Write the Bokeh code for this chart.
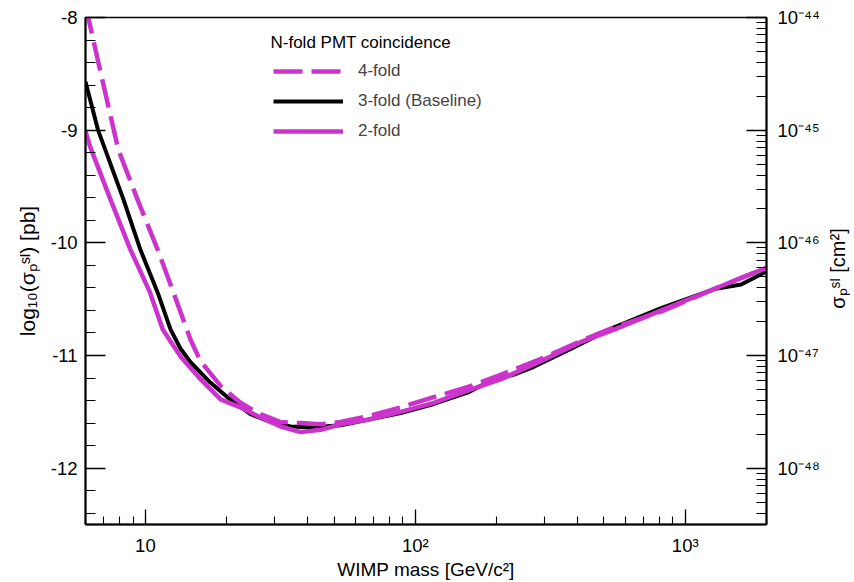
import math
from bokeh.plotting import figure
from bokeh.layouts import row
from bokeh.models import (LogAxis, Range1d, LogScale, LogTicker, SingleIntervalTicker,
                          CustomJSTickFormatter, Legend, LegendItem, Label)
from bokeh.embed import file_html
from bokeh.resources import INLINE

# WIMP mass [GeV/c^2] and log10(sigma_p^SI / pb) for each coincidence requirement
mass_4fold = [6.0, 6.8, 7.93, 9.33, 11.1, 12.7, 14.7, 16.0, 19.0, 22.5, 26.7, 31.7, 37.6, 44.6,
              52.9, 66.5, 88.3, 117, 161, 208, 292, 411, 545, 814, 1280, 2014]
sigma_4fold = [-7.89, -8.47, -9.17, -9.61, -10.06, -10.44, -10.86, -11.05, -11.27, -11.42, -11.52,
               -11.59, -11.60, -11.61, -11.59, -11.54, -11.46, -11.37, -11.27, -11.17, -11.03,
               -10.87, -10.75, -10.61, -10.41, -10.22]

mass_3fold = [6.0, 6.68, 8.28, 9.58, 11.1, 12.4, 13.5, 14.7, 17.4, 20.6, 24.5, 29.1, 34.5, 40.9,
              52.9, 66.5, 88.3, 117, 156, 195, 232, 275, 378, 545, 814, 1280, 1611, 2014]
sigma_3fold = [-8.57, -9.00, -9.61, -10.06, -10.44, -10.77, -10.94, -11.06, -11.24, -11.39, -11.52,
               -11.59, -11.63, -11.64, -11.62, -11.57, -11.51, -11.43, -11.33, -11.21, -11.17,
               -11.10, -10.94, -10.75, -10.58, -10.41, -10.37, -10.25]

mass_2fold = [6.0, 6.25, 7.41, 8.80, 10.4, 11.6, 13.5, 16.0, 19.0, 22.5, 26.7, 31.7, 37.6, 44.6,
              52.9, 66.5, 88.3, 117, 161, 208, 292, 411, 545, 814, 1280, 1611, 2014]
sigma_2fold = [-9.01, -9.15, -9.61, -10.06, -10.44, -10.77, -11.01, -11.21, -11.39, -11.46, -11.55,
               -11.63, -11.68, -11.66, -11.61, -11.57, -11.50, -11.42, -11.30, -11.21, -11.05,
               -10.88, -10.77, -10.60, -10.41, -10.31, -10.22]

labels = ["4-fold", "3-fold (Baseline)", "2-fold"]
legend_title = "N-fold PMT coincidence"
x_title = "WIMP mass [GeV/c\u00b2]"
y_title = "log\u2081\u2080(\u03c3\u209a\u02e2\u1d35) [pb]"
y2_title = "\u03c3\u209a\u02e2\u1d35 [cm\u00b2]"

x_limits = (6, 2000)
y_limits = (-12.5, -8)
pb_to_cm2_exp = -36

MAGENTA = "#cc33cc"
FONT = "Liberation Sans"
H = 582

p = figure(width=826, height=H, x_axis_type="log", x_range=x_limits, y_range=y_limits,
           output_backend="svg", toolbar_location=None,
           min_border_left=85, min_border_right=60, min_border_top=17, min_border_bottom=58)
p.background_fill_color = "white"
p.border_fill_color = "white"
p.outline_line_color = "black"
p.outline_line_width = 1.5
p.xgrid.visible = False
p.ygrid.visible = False

sup_js = """
const sup = {"0":"\u2070","1":"\u00b9","2":"\u00b2","3":"\u00b3","4":"\u2074","5":"\u2075",
             "6":"\u2076","7":"\u2077","8":"\u2078","9":"\u2079","-":"\u207b"};
const e = Math.round(Math.log10(tick));
if (e == 1 && SKIP1) { return "10"; }
return "10" + String(e).split("").map(c => sup[c]).join("");
"""

# bottom axis
xa = p.xaxis[0]
xa.ticker = LogTicker(num_minor_ticks=10)
xa.formatter = CustomJSTickFormatter(code=sup_js.replace("SKIP1", "true"))
xa.axis_label = x_title

# left axis
ya = p.yaxis[0]
ya.ticker = SingleIntervalTicker(interval=1, num_minor_ticks=5)
ya.formatter = CustomJSTickFormatter(code="return tick.toFixed(0);")
ya.axis_label = y_title

# right axis in cm^2
p.extra_y_ranges = {"cm2": Range1d(10 ** (y_limits[0] + pb_to_cm2_exp), 10 ** (y_limits[1] + pb_to_cm2_exp))}
p.extra_y_scales = {"cm2": LogScale()}
ra = LogAxis(y_range_name="cm2", ticker=LogTicker(num_minor_ticks=10),
             formatter=CustomJSTickFormatter(code=sup_js.replace("SKIP1", "false")))
p.add_layout(ra, "right")

for ax in (xa, ya, ra):
    ax.axis_line_width = 2
    ax.axis_line_color = "black"
    ax.major_tick_out = 0
    ax.minor_tick_out = 0
    ax.major_tick_line_color = "black"
    ax.minor_tick_line_color = "black"
    ax.major_tick_line_width = 1.3
    ax.minor_tick_line_width = 1.1
    ax.major_label_text_font = FONT
    ax.major_label_text_font_size = "18.5px"
    ax.major_label_text_color = "black"
    ax.axis_label_text_font = FONT
    ax.axis_label_text_font_size = "19px"
    ax.axis_label_text_font_style = "normal"
    ax.axis_label_text_color = "black"

ya.axis_label_text_font_size = "21px"
ya.major_tick_in = 20
ya.minor_tick_in = 10
ra.major_tick_in = 20
ra.minor_tick_in = 10
xa.major_tick_in = 15
xa.minor_tick_in = 8
ya.major_label_standoff = 8
ra.major_label_standoff = 11
xa.major_label_standoff = 10
ya.axis_label_standoff = 9
xa.axis_label_standoff = 0

r3 = p.line(mass_3fold, sigma_3fold, line_color="black", line_width=4, line_join="round")
r2 = p.line(mass_2fold, sigma_2fold, line_color=MAGENTA, line_width=4.5, line_join="round")
r4 = p.line(mass_4fold, sigma_4fold, line_color=MAGENTA, line_width=4.5, line_dash="29 9",
            line_join="round")

legend = Legend(items=[LegendItem(label=labels[0], renderers=[r4]),
                       LegendItem(label=labels[1], renderers=[r3]),
                       LegendItem(label=labels[2], renderers=[r2])],
                location=(188, 383),
                border_line_color=None, background_fill_alpha=0,
                glyph_width=70, glyph_height=20, label_height=20, spacing=10,
                label_standoff=15, padding=0, margin=0,
                label_text_font=FONT, label_text_font_size="17px")
p.add_layout(legend)

p.add_layout(Label(x=185, y=482, x_units="screen", y_units="screen", text=legend_title,
                   text_font=FONT, text_font_size="17px", text_baseline="middle",
                   text_align="left", text_color="black"))

# narrow strip to the right carrying the right-hand axis title, reading bottom to top
p2 = figure(width=24, height=H, x_range=(0, 1), y_range=(0, 1), output_backend="svg",
            toolbar_location=None, x_axis_location=None, y_axis_location=None,
            min_border_left=0, min_border_right=0, min_border_top=0, min_border_bottom=0)
p2.outline_line_color = None
p2.grid.visible = False
p2.background_fill_color = "white"
p2.border_fill_color = "white"
p2.add_layout(Label(x=11, y=H - 326, x_units="screen", y_units="screen", text=y2_title,
                    angle=math.pi / 2, text_font=FONT, text_font_size="20px",
                    text_baseline="middle", text_align="center", text_color="black"))

layout = row(p, p2, spacing=0)
open("out.html", "w").write(file_html(layout, INLINE))
